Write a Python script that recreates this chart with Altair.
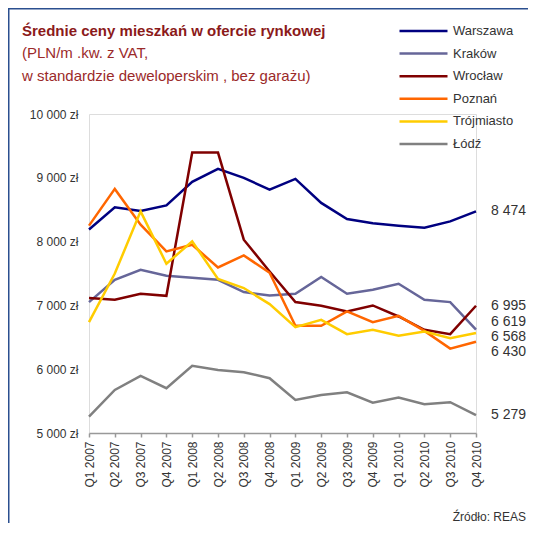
import altair as alt
import pandas as pd

quarters = ["Q1 2007", "Q2 2007", "Q3 2007", "Q4 2007",
            "Q1 2008", "Q2 2008", "Q3 2008", "Q4 2008",
            "Q1 2009", "Q2 2009", "Q3 2009", "Q4 2009",
            "Q1 2010", "Q2 2010", "Q3 2010", "Q4 2010"]

cities = ["Warszawa", "Kraków", "Wrocław", "Poznań", "Trójmiasto", "Łódź"]
colors = ["#000080", "#666699", "#800000", "#FF6600", "#FFCC00", "#808080"]

warszawa = [8190, 8537, 8480, 8568, 8936, 9140, 8998, 8815,
            8983, 8606, 8355, 8286, 8250, 8218, 8317, 8474]
krakow = [7052, 7402, 7559, 7465, 7433, 7402, 7209, 7155,
          7182, 7444, 7182, 7245, 7339, 7088, 7052, 6619]
wroclaw = [7115, 7088, 7182, 7150, 9395, 9395, 8030, 7532,
           7052, 6994, 6905, 6999, 6826, 6617, 6549, 6995]
poznan = [8250, 8826, 8265, 7846, 7951, 7595, 7783, 7512,
          6680, 6680, 6905, 6738, 6837, 6601, 6323, 6430]
trojmiasto = [6738, 7500, 8474, 7653, 8003, 7415, 7272, 7020,
              6660, 6774, 6549, 6617, 6523, 6590, 6487, 6568]
lodz = [5256, 5675, 5895, 5702, 6052, 5989, 5953, 5859,
        5518, 5597, 5639, 5476, 5555, 5450, 5482, 5279]

series = [warszawa, krakow, wroclaw, poznan, trojmiasto, lodz]

end_labels = ["8 474", "6 619", "6 995", "6 430", "6 568", "5 279"]
label_shift = [0, -8, 0, 10, 4, 0]

y_ticks = [5000, 6000, 7000, 8000, 9000, 10000]

title_lines = ["Średnie ceny mieszkań w ofercie rynkowej",
               "(PLN/m .kw. z VAT,",
               "w standardzie deweloperskim , bez garażu)"]
source_text = "Źródło: REAS"

rows = []
for city, vals in zip(cities, series):
    for i, (q, v) in enumerate(zip(quarters, vals)):
        rows.append({"city": city, "quarter": q, "order": i, "value": v})
df = pd.DataFrame(rows)

W, H = 387, 319
FONT = "Liberation Sans"

xscale = alt.Scale(domain=quarters, padding=0)
yscale = alt.Scale(domain=[5000, 10000], nice=False, zero=False)

lines = alt.Chart(df).mark_line(strokeWidth=2.5).encode(
    x=alt.X("quarter:N", scale=xscale, sort=quarters,
            axis=alt.Axis(title=None, labelAngle=-90, labelFontSize=12,
                          labelColor="#333333", labelFont=FONT,
                          tickSize=4, tickColor="#999999", tickWidth=1.5,
                          domainColor="#999999", domainWidth=1.5,
                          labelPadding=4, grid=False)),
    y=alt.Y("value:Q", scale=yscale,
            axis=alt.Axis(title=None, values=y_ticks, domain=False, ticks=False,
                          grid=False, labelFontSize=12, labelColor="#333333",
                          labelFont=FONT, labelPadding=11,
                          labelExpr="replace(format(datum.value, ','), ',', ' ') + ' zł'")),
    color=alt.Color("city:N", scale=alt.Scale(domain=cities, range=colors),
                    legend=alt.Legend(title=None, orient="none", legendX=309, legendY=-90,
                                      symbolType="stroke", symbolSize=2304,
                                      symbolStrokeWidth=2.5, labelFontSize=13,
                                      labelFont=FONT, labelColor="#333333",
                                      labelOffset=4, clipHeight=14, rowPadding=8.6)),
    order="order:Q",
)

last = df[df["quarter"] == quarters[-1]].reset_index(drop=True)
label_layers = []
for city, txt, sh in zip(cities, end_labels, label_shift):
    sub = last[last["city"] == city].copy()
    sub["label"] = txt
    label_layers.append(
        alt.Chart(sub).mark_text(align="left", baseline="middle", dx=15, dy=sh,
                                 fontSize=14, font=FONT, color="#333333").encode(
            x=alt.X("quarter:N", scale=xscale),
            y=alt.Y("value:Q", scale=yscale),
            text="label:N",
        )
    )

tdf = pd.DataFrame({"t": title_lines, "i": [0, 1, 2]})
title1 = alt.Chart(tdf[tdf.i == 0]).mark_text(
    align="left", baseline="alphabetic", fontSize=15, fontWeight="bold",
    font=FONT, color="#8B1A1A").encode(
    x=alt.value(-67), y=alt.value(-78), text="t:N")
title2 = alt.Chart(tdf[tdf.i == 1]).mark_text(
    align="left", baseline="alphabetic", fontSize=15,
    font=FONT, color="#9B2A2A").encode(
    x=alt.value(-67), y=alt.value(-56), text="t:N")
title3 = alt.Chart(tdf[tdf.i == 2]).mark_text(
    align="left", baseline="alphabetic", fontSize=15,
    font=FONT, color="#9B2A2A").encode(
    x=alt.value(-67), y=alt.value(-33), text="t:N")

src = alt.Chart(pd.DataFrame({"t": [source_text]})).mark_text(
    align="right", baseline="alphabetic", fontSize=12, font=FONT,
    color="#333333").encode(x=alt.value(W + 50), y=alt.value(H + 88), text="t:N")

frame_left = alt.Chart(pd.DataFrame({"a": [0]})).mark_rule(
    color="#2B4F8F", strokeWidth=1.5).encode(
    x=alt.value(-80.25), y=alt.value(-106), y2=alt.value(H + 90))
frame_top = alt.Chart(pd.DataFrame({"a": [0]})).mark_rule(
    color="#2B4F8F", strokeWidth=1.5).encode(
    y=alt.value(-105.25), x=alt.value(-81), x2=alt.value(W + 52))

chart = alt.layer(lines, *label_layers, title1, title2, title3, src,
                  frame_left, frame_top).properties(
    width=W, height=H,
    padding={"left": 81, "top": 106, "right": 52, "bottom": 90},
    autosize=alt.AutoSizeParams(type="none"),
).configure_view(stroke=None).configure(background="white")

chart.save("out.html", embed_options={"renderer": "svg", "actions": False})
